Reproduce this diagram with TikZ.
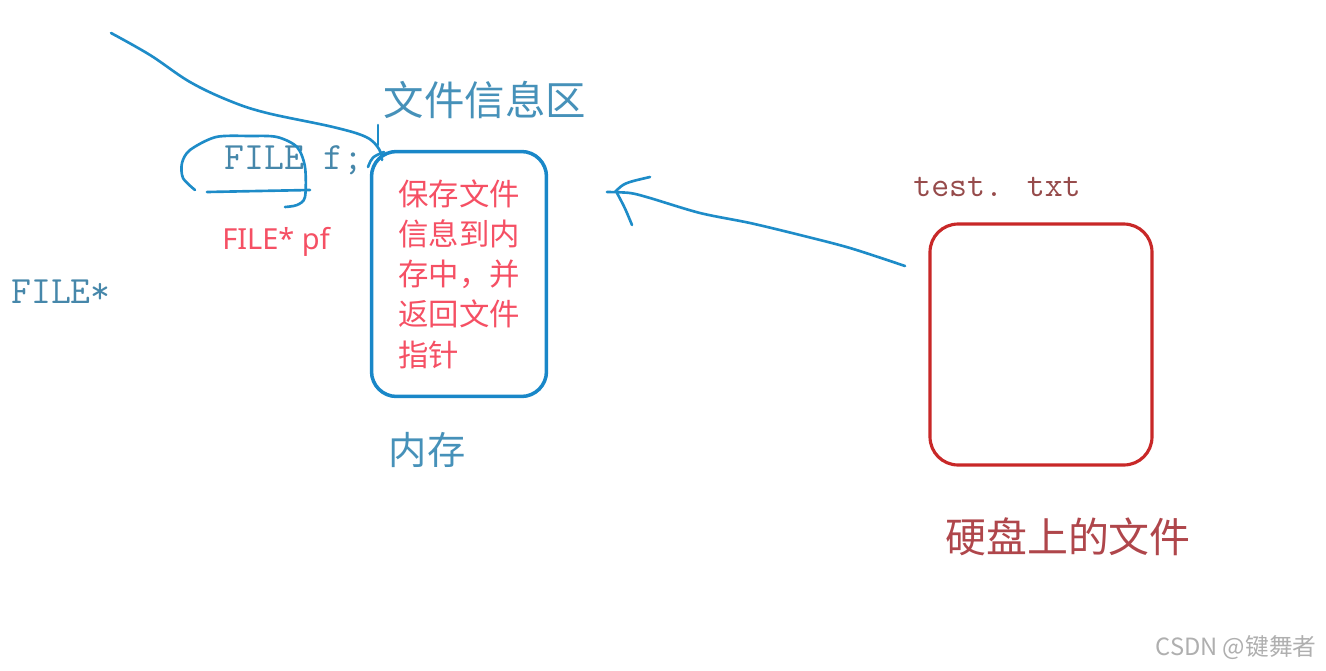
\documentclass[tikz,border=0pt]{standalone}
\usepackage{fontspec}
\newfontfamily\cjk{Noto Sans CJK SC}
\newfontfamily\nsans{Noto Sans}
\definecolor{memblue}{RGB}{25,135,200}
\definecolor{inkblue}{RGB}{30,140,200}
\definecolor{txtblue}{RGB}{70,145,185}
\definecolor{monoblue}{RGB}{70,135,170}
\definecolor{pinkred}{RGB}{245,80,100}
\definecolor{diskred}{RGB}{200,40,40}
\definecolor{disktext}{RGB}{175,70,75}
\definecolor{ttred}{RGB}{150,75,75}
\definecolor{wmgray}{RGB}{175,175,175}
\begin{document}
\begin{tikzpicture}[x=0.02cm,y=-0.02cm,
  ink/.style={draw=inkblue, line width=1.5pt, line cap=round, line join=round},
  membox/.style={draw=memblue, line width=2pt, rounded corners=0.5cm,
    minimum width=3.5cm, minimum height=4.9cm, text=pinkred, align=left,
    font=\cjk\fontsize{17.3pt}{22.9pt}\selectfont, inner sep=0pt},
  diskbox/.style={draw=diskred, line width=1.8pt, rounded corners=0.56cm,
    minimum width=4.44cm, minimum height=4.82cm},
  bluecjk/.style={text=txtblue, font=\cjk\fontsize{23pt}{26pt}\selectfont, inner sep=0pt},
  monolabel/.style={text=monoblue, font=\ttfamily\fontsize{22pt}{24pt}\selectfont, inner sep=0pt},
  redcjk/.style={text=disktext, font=\cjk\fontsize{23.3pt}{26pt}\selectfont, inner sep=0pt}]
\useasboundingbox (0,0) rectangle (1326,670);

% boxes
\node[membox] (mem) at (459,274) {保存文件\\信息到内\\存中，并\\返回文件\\指针};
\node[diskbox] (disk) at (1041,344.5) {};

% labels
\node[bluecjk] (zone) at (485,100) {文件信息区};
\node[monolabel] (filef) at (294,160) {FILE f;};
\node[monolabel] (fileptr) at (61,292) {FILE*};
\node[text=pinkred, font=\nsans\fontsize{16.5pt}{20pt}\selectfont, inner sep=0pt] (pf) at (276,242) {FILE* pf};
\node[bluecjk, font=\cjk\fontsize{21.8pt}{24pt}\selectfont] (neicun) at (427,450) {内存};
\node[text=ttred, font=\ttfamily\fontsize{19.8pt}{22pt}\selectfont, inner sep=0pt] (testtxt) at (997,187) {test. txt};
\node[redcjk] (disklabel) at (1068,537) {硬盘上的文件};
\node[text=wmgray, font=\cjk\fontsize{13.5pt}{16pt}\selectfont, inner sep=0pt] (wm) at (1236,648) {CSDN @键舞者};

% hand-drawn stroke towards the memory box
\coordinate (c0) at (111,33);
\coordinate (c1) at (382,160);
\draw[ink] plot[smooth, tension=0.6] coordinates {(c0) (150,55) (190,82) (230,101) (267,113) (333,127) (366,137) (379,149) (c1)};
\draw[ink] (378,125) -- (378,145);
\draw[ink] (368,167) .. controls (372,157) .. (384,152);

% loop around FILE
\draw[ink] plot[smooth] coordinates {(195,190) (183,178) (182,163) (190,150) (216,137) (250,136) (277,137) (297,147) (305,167) (305,197) (297,205) (285,207)};
\draw[ink] (207,192) -- (310,190);

% arrow from the disk file to memory
\coordinate (a0) at (905,266);
\coordinate (a1) at (607,192);
\draw[ink] plot[smooth] coordinates {(a0) (850,248) (800,235) (750,223) (700,213) (650,198) (630,193) (a1)};
\draw[ink] (615,192) .. controls (624,183) .. (650,177);
\draw[ink] (617,193) .. controls (625,208) .. (632,225);
\end{tikzpicture}
\end{document}
